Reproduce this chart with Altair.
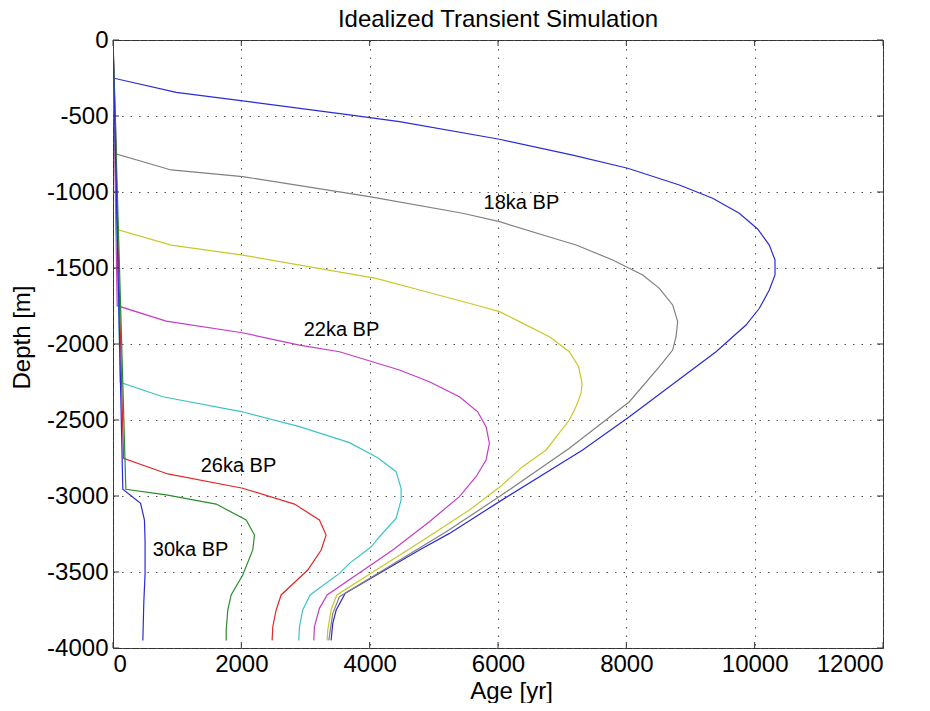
import altair as alt
import pandas as pd

# ---------------- data ----------------
title_text = ["Idealized Transient Simulation"]
x_ticks = [0, 2000, 4000, 6000, 8000, 10000, 12000]
y_ticks = [0, -500, -1000, -1500, -2000, -2500, -3000, -3500, -4000]

series_names = ["16ka", "18ka", "20ka", "22ka", "24ka", "26ka", "28ka", "30ka"]
series_colors = ["#2b2bd6", "#808080", "#c8c828", "#c43cc4", "#3cc4c4", "#e02828", "#2a8c2a", "#2b2bd6"]

age_16 = [0, 0, 985, 2022, 3685, 4465, 6022, 7164, 8021, 8826, 9345, 9760, 10046, 10228, 10317, 10317,
          10228, 10073, 9865, 9398, 8878, 8047, 7319, 6022, 5243, 4775, 3620, 3478, 3425, 3399]
depth_16 = [0, -250, -344, -401, -493, -537, -653, -757, -844, -954, -1041, -1140, -1243, -1349, -1447, -1546,
            -1645, -1765, -1875, -2051, -2215, -2478, -2697, -3037, -3246, -3355, -3640, -3750, -3838, -3950]

age_18 = [0, 55, 907, 2022, 3996, 5450, 6022, 6957, 7217, 7787, 8255, 8515, 8722, 8800, 8775, 8722, 8515,
          8047, 7112, 6022, 5193, 4725, 3530, 3425, 3363]
depth_18 = [0, -750, -855, -899, -1031, -1140, -1195, -1316, -1349, -1447, -1546, -1634, -1743, -1853, -1952,
            -2040, -2149, -2380, -2686, -3004, -3235, -3355, -3662, -3772, -3950]

age_20 = [0, 55, 907, 2022, 4100, 4880, 5710, 6022, 6334, 6801, 7112, 7257, 7310, 7294, 7216, 7112, 6749,
          6384, 6022, 5554, 5035, 4593, 3487, 3399, 3347, 3337]
depth_20 = [0, -1245, -1349, -1415, -1568, -1656, -1750, -1787, -1853, -1952, -2051, -2149, -2259, -2325,
            -2412, -2500, -2697, -2807, -2943, -3092, -3235, -3355, -3651, -3750, -3882, -3950]

age_22 = [0, 65, 829, 2013, 2906, 3529, 4465, 4931, 5398, 5684, 5814, 5866, 5814, 5658, 5398, 4931, 4360,
          3337, 3217, 3139, 3129]
depth_22 = [0, -1748, -1849, -1926, -2007, -2051, -2171, -2248, -2347, -2446, -2544, -2653, -2763, -2873,
            -3004, -3169, -3355, -3651, -3739, -3860, -3950]

age_24 = [0, 112, 776, 2017, 2906, 3685, 4126, 4412, 4490, 4490, 4412, 4152, 4024, 3685, 3529, 3072, 2957,
          2906, 2895]
depth_24 = [0, -2252, -2347, -2446, -2544, -2649, -2748, -2840, -2950, -3026, -3147, -3268, -3334, -3443,
            -3509, -3651, -3750, -3860, -3950]

age_26 = [0, 164, 854, 2022, 2828, 3217, 3321, 3244, 3035, 2620, 2543, 2490, 2480]
depth_26 = [0, -2752, -2855, -2949, -3053, -3158, -3257, -3355, -3487, -3651, -3750, -3860, -3950]

age_28 = [0, 200, 829, 1608, 2075, 2205, 2178, 2022, 1841, 1789, 1764, 1764]
depth_28 = [0, -2956, -2993, -3053, -3158, -3257, -3355, -3520, -3651, -3750, -3882, -3950]

age_30 = [0, 153, 430, 490, 500, 500, 480, 465]
depth_30 = [0, -2956, -3048, -3158, -3300, -3509, -3700, -3950]

label_text = ["18ka BP", "22ka BP", "26ka BP", "30ka BP"]
label_age = [6365, 3560, 1955, 1210]
label_depth = [-1075, -1905, -2805, -3355]

# ---------------- tables ----------------
all_age = [age_16, age_18, age_20, age_22, age_24, age_26, age_28, age_30]
all_depth = [depth_16, depth_18, depth_20, depth_22, depth_24, depth_26, depth_28, depth_30]
rows = []
for name, ages, depths in zip(series_names, all_age, all_depth):
    for i, (a, d) in enumerate(zip(ages, depths)):
        rows.append({"series": name, "i": i, "age": a, "depth": d})
df = pd.DataFrame(rows)
labels_df = pd.DataFrame({"text": label_text, "age": label_age, "depth": label_depth})
title_df = pd.DataFrame({"t": title_text})
xt_df = pd.DataFrame({"v": x_ticks})
yt_df = pd.DataFrame({"v": y_ticks})

FONT = "Liberation Sans"
W, H = 770, 608

xscale = alt.Scale(domain=[0, 12000], nice=False, zero=False)
yscale = alt.Scale(domain=[-4000, 0], nice=False, zero=False)

lines = alt.Chart(df).mark_line(strokeWidth=1.2, clip=True).encode(
    x=alt.X("age:Q", scale=xscale,
            axis=alt.Axis(values=x_ticks, title="Age [yr]", labelPadding=4,
                          labelExpr="datum.value + ''",
                          titleX=398, titleY=31, titleAnchor="start", titleAlign="center",
                          titleBaseline="top")),
    y=alt.Y("depth:Q", scale=yscale,
            axis=alt.Axis(values=y_ticks, title="Depth [m]", labelPadding=5,
                          labelExpr="datum.value + ''",
                          titleX=-91, titleY=297, titleAngle=-90, titleAlign="center",
                          titleBaseline="middle")),
    color=alt.Color("series:N", scale=alt.Scale(domain=series_names, range=series_colors), legend=None),
    detail="series:N",
    order=alt.Order("i:Q"),
)

texts = alt.Chart(labels_df).mark_text(font=FONT, fontSize=20, color="black",
                                       align="center", baseline="middle").encode(
    x=alt.X("age:Q", scale=xscale), y=alt.Y("depth:Q", scale=yscale), text="text:N")

title_mark = alt.Chart(title_df).mark_text(font=FONT, fontSize=24, color="black",
                                           align="center", baseline="alphabetic").encode(
    x=alt.value(W / 2), y=alt.value(-13), text="t:N")

tick_len = 6
xt_bottom = alt.Chart(xt_df).mark_rule(color="#333333", strokeWidth=1).encode(
    x=alt.X("v:Q", scale=xscale), y=alt.value(H), y2=alt.value(H - tick_len))
xt_top = alt.Chart(xt_df).mark_rule(color="#333333", strokeWidth=1).encode(
    x=alt.X("v:Q", scale=xscale), y=alt.value(0), y2=alt.value(tick_len))
yt_left = alt.Chart(yt_df).mark_rule(color="#333333", strokeWidth=1).encode(
    y=alt.Y("v:Q", scale=yscale), x=alt.value(0), x2=alt.value(tick_len))
yt_right = alt.Chart(yt_df).mark_rule(color="#333333", strokeWidth=1).encode(
    y=alt.Y("v:Q", scale=yscale), x=alt.value(W), x2=alt.value(W - tick_len))

chart = alt.layer(lines, texts, title_mark, xt_bottom, xt_top, yt_left, yt_right).properties(
    width=W, height=H,
    autosize=alt.AutoSizeParams(type="none"),
    padding={"left": 105, "top": 32, "right": 39, "bottom": 55},
).configure_view(
    stroke="#333333", strokeWidth=1
).configure_axis(
    grid=True, gridDash=[1.5, 7], gridColor="#555555", gridOpacity=1, gridWidth=1,
    domain=False, ticks=False, tickSize=0,
    labelFont=FONT, labelFontSize=24, labelColor="black",
    titleFont=FONT, titleFontSize=24, titleFontWeight="normal", titleColor="black",
).configure_axisX(labelBaseline="top")

chart.save("out.html", embed_options={"renderer": "svg", "actions": False})
